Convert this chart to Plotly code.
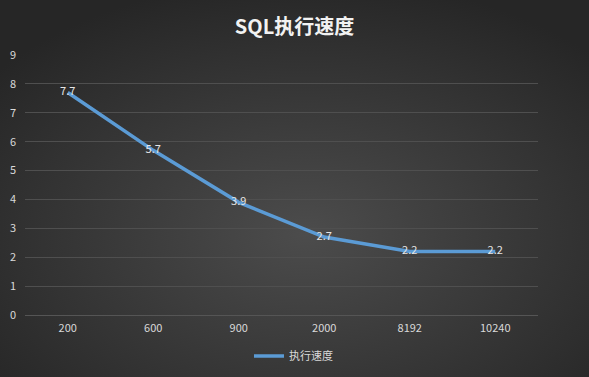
import base64
import plotly.graph_objects as go

categories = ["200", "600", "900", "2000", "8192", "10240"]
speed = [7.7, 5.7, 3.9, 2.7, 2.2, 2.2]
y_ticks = [0, 1, 2, 3, 4, 5, 6, 7, 8, 9]
series_name = "执行速度"
title_text = "SQL执行速度"

W, H = 589, 377
ml, mr, mt, mb = 25, 51, 55, 62
pw, ph = W - ml - mr, H - mt - mb

svg = f'''<svg xmlns="http://www.w3.org/2000/svg" width="{W}" height="{H}" viewBox="0 0 {W} {H}" preserveAspectRatio="none">
<defs><radialGradient id="g" cx="52%" cy="62%" r="68%" gradientUnits="objectBoundingBox">
<stop offset="0%" stop-color="#4c4c4c"/><stop offset="100%" stop-color="#262626"/></radialGradient></defs>
<rect width="{W}" height="{H}" fill="url(#g)"/></svg>'''
src = "data:image/svg+xml;base64," + base64.b64encode(svg.encode()).decode()

font = "Noto Sans CJK SC, Microsoft YaHei, sans-serif"

fig = go.Figure()
fig.add_trace(go.Scatter(
    x=categories, y=speed, name=series_name, mode="lines+text",
    line=dict(color="#5b9bd5", width=3.5),
    text=[f"{v:.1f}" for v in speed], textposition="middle center",
    textfont=dict(color="#e6e6e6", size=11, family=font),
    cliponaxis=False,
))

fig.update_layout(
    width=W, height=H, autosize=False,
    margin=dict(l=ml, r=mr, t=mt, b=mb, autoexpand=False),
    paper_bgcolor="#333333", plot_bgcolor="rgba(0,0,0,0)",
    font=dict(family=font, color="#d9d9d9", size=11),
    title=dict(text=f"<b>{title_text}</b>", x=0.5, xanchor="center", y=1 - 27 / H, yanchor="middle",
               font=dict(size=20, color="#f2f2f2", family=font)),
    showlegend=True,
    legend=dict(orientation="h", x=0.5 + 12 / pw, xanchor="center", yref="container", y=1 - 356 / H,
                yanchor="middle",
                font=dict(size=11, color="#d9d9d9", family=font), bgcolor="rgba(0,0,0,0)"),
    xaxis=dict(type="category", range=[-0.5, 5.5], showgrid=False, zeroline=False, showline=False,
               ticks="", ticklabelstandoff=5, tickfont=dict(size=11, color="#d9d9d9")),
    yaxis=dict(range=[0, 9], tickvals=y_ticks, showgrid=True, gridcolor="#4f4f4f", gridwidth=1,
               zeroline=True, zerolinecolor="#555555", zerolinewidth=1, showline=False, ticks="",
               ticklabelstandoff=8, tickfont=dict(size=11, color="#d9d9d9")),
    images=[dict(source=src, xref="paper", yref="paper", x=-ml / pw, y=1 + mt / ph,
                 sizex=W / pw, sizey=H / ph, sizing="stretch", xanchor="left", yanchor="top",
                 layer="below")],
)

fig.write_html("out.html", config={"responsive": False, "displayModeBar": False},
               post_script="document.body.style.margin='0';document.body.style.overflow='hidden';")
